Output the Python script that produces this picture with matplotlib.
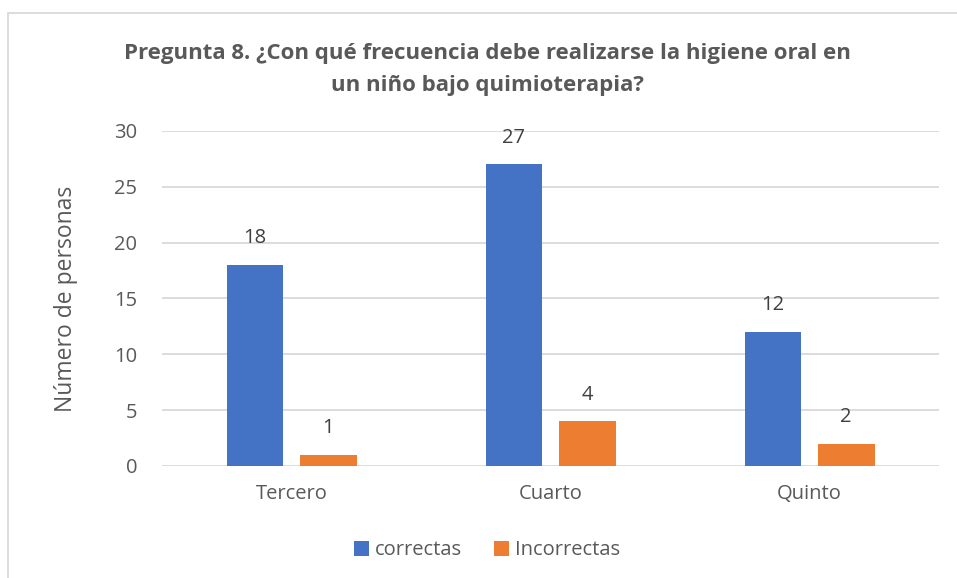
import matplotlib.pyplot as plt
import numpy as np
from matplotlib.patches import Rectangle

plt.rcParams['font.family'] = ['Open Sans', 'DejaVu Sans']

categories = ["Tercero", "Cuarto", "Quinto"]
correctas = [18, 27, 12]
incorrectas = [1, 4, 2]

blue = "#4472C4"
orange = "#ED7D31"
gray_txt = "#595959"

fig = plt.figure(figsize=(9.57, 5.78), dpi=100)
ax = fig.add_axes([0.1693, 0.1938, 0.8119, 0.5796])

x = np.arange(len(categories))
w = 0.22
off = 0.141
b1 = ax.bar(x - off, correctas, w, color=blue, label="correctas")
b2 = ax.bar(x + off, incorrectas, w, color=orange, label="Incorrectas")

# etiquetas de valore sopra le barre
for bars in (b1, b2):
    for r in bars:
        ax.annotate(str(int(r.get_height())),
                    (r.get_x() + r.get_width() / 2, r.get_height()),
                    xytext=(0, 12), textcoords="offset points",
                    ha="center", va="bottom", fontsize=14.5, color="#404040")

ax.set_xlim(-0.5, 2.5)
ax.set_ylim(0, 30)
ax.set_yticks(range(0, 31, 5))
ax.set_xticks(x)
ax.set_xticklabels(categories)
ax.tick_params(axis="both", length=0, labelsize=14.5, labelcolor=gray_txt)
ax.tick_params(axis="y", pad=18)
ax.tick_params(axis="x", pad=13)
ax.grid(axis="y", color="#D9D9D9", linewidth=1.3)
ax.set_axisbelow(True)
for s in ax.spines.values():
    s.set_visible(False)

ax.set_ylabel("Número de personas", fontsize=16.5, color=gray_txt, labelpad=26)

fig.text(0.509, 0.880,
         "Pregunta 8. ¿Con qué frecuencia debe realizarse la higiene oral en\nun niño bajo quimioterapia?",
         ha="center", va="center", fontsize=16, fontweight="bold",
         color=gray_txt, linespacing=1.7)

leg = fig.legend(loc="center", ncol=2, frameon=False, fontsize=14.5,
                 handlelength=0.75, handleheight=0.75, columnspacing=1.6,
                 handletextpad=0.3, labelcolor=gray_txt)
leg.set_bbox_to_anchor((0.509, 0.048), transform=fig.transFigure)

# bordo del grafico (tagliato a destra e in basso)
fig.patches.append(Rectangle((8 / 957, -0.05), 1.2, 1 - 13 / 578 + 0.05,
                             transform=fig.transFigure, fill=False,
                             edgecolor="#D9D9D9", linewidth=1.3))

fig.savefig("out.png", dpi=100)
